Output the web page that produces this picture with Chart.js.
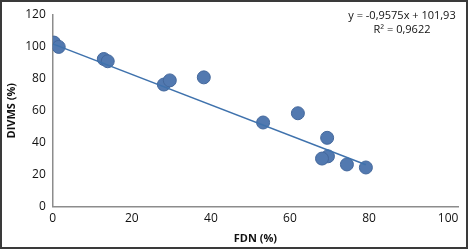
<!DOCTYPE html>
<html>
<head>
<meta charset="utf-8">
<script src="https://cdn.jsdelivr.net/npm/chart.js@4"></script>
<style>
  html, body { margin: 0; padding: 0; background: #fff; }
  #wrap { width: 468px; height: 249px; position: relative; }
</style>
</head>
<body>
<div id="wrap"><canvas id="chart"></canvas></div>
<script>
// FDN (%) vs DIVMS (%)
const fdn = [0.3, 1.5, 12.9, 13.9, 28.1, 29.6, 38.2, 53.2, 62, 69.4, 69.6, 68.1, 74.4, 79.2];
const divms = [102.7, 100, 92.4, 91, 76.4, 79, 80.9, 52.6, 58.4, 43, 31.4, 30, 26.3, 24.4];

// trend line ends (from the equation printed on the chart)
const trendX = [0, 79.2];
const trendY = [101.9, 26.1];

const xTicks = [0, 20, 40, 60, 80, 100];
const yTicks = [0, 20, 40, 60, 80, 100, 120];

const eqLines = ['y = -0,9575x + 101,93', 'R² = 0,9622'];

const frame = {
  id: 'frame',
  afterDraw(chart) {
    const ctx = chart.ctx;
    ctx.save();
    ctx.strokeStyle = '#3a3a3a';
    ctx.lineWidth = 2;
    ctx.strokeRect(1, 1, chart.width - 2, chart.height - 2);

    ctx.fillStyle = '#111';
    ctx.font = '11px "Open Sans", sans-serif';
    ctx.textAlign = 'center';
    ctx.textBaseline = 'middle';
    ctx.fillText(eqLines[0], 402, 16);
    ctx.fillText(eqLines[1], 402, 30);
    ctx.restore();
  }
};

const pts = fdn.map((x, i) => ({ x: x, y: divms[i] }));
const trend = trendX.map((x, i) => ({ x: x, y: trendY[i] }));

new Chart(document.getElementById('chart'), {
  type: 'scatter',
  data: {
    datasets: [
      {
        label: 'trend',
        data: trend,
        showLine: true,
        borderColor: '#3f72ad',
        borderWidth: 1.5,
        pointRadius: 0,
        fill: false
      },
      {
        label: 'DIVMS',
        data: pts,
        pointRadius: 6.5,
        backgroundColor: '#5279b0',
        borderColor: '#44689c',
        borderWidth: 1
      }
    ]
  },
  options: {
    responsive: true,
    maintainAspectRatio: false,
    animation: false,
    layout: { padding: { left: 5, right: 10, top: 15, bottom: 4 } },
    plugins: {
      legend: { display: false },
      tooltip: { enabled: false }
    },
    scales: {
      x: {
        type: 'linear',
        min: 0,
        max: 102.5,
        afterBuildTicks: (s) => { s.ticks = xTicks.map(v => ({ value: v })); },
        grid: { display: false, drawTicks: false },
        border: { display: true, color: '#8c8c8c', width: 1.5 },
        ticks: { color: '#111', padding: 5, font: { family: '"Open Sans", sans-serif', size: 12 } },
        title: {
          display: true,
          text: 'FDN (%)',
          color: '#111',
          padding: { top: 1, bottom: 0 },
          font: { family: '"Open Sans", sans-serif', size: 11, weight: 'bold' }
        }
      },
      y: {
        min: 0,
        max: 120,
        afterBuildTicks: (s) => { s.ticks = yTicks.map(v => ({ value: v })); },
        grid: { display: false, drawTicks: false },
        border: { display: true, color: '#8c8c8c', width: 1.5 },
        ticks: { color: '#111', padding: 7, font: { family: '"Open Sans", sans-serif', size: 12 } },
        title: {
          display: true,
          text: 'DIVMS (%)',
          color: '#111',
          padding: { top: 0, bottom: 0 },
          font: { family: '"Open Sans", sans-serif', size: 11, weight: 'bold' }
        }
      }
    }
  },
  plugins: [frame]
});
</script>
</body>
</html>
